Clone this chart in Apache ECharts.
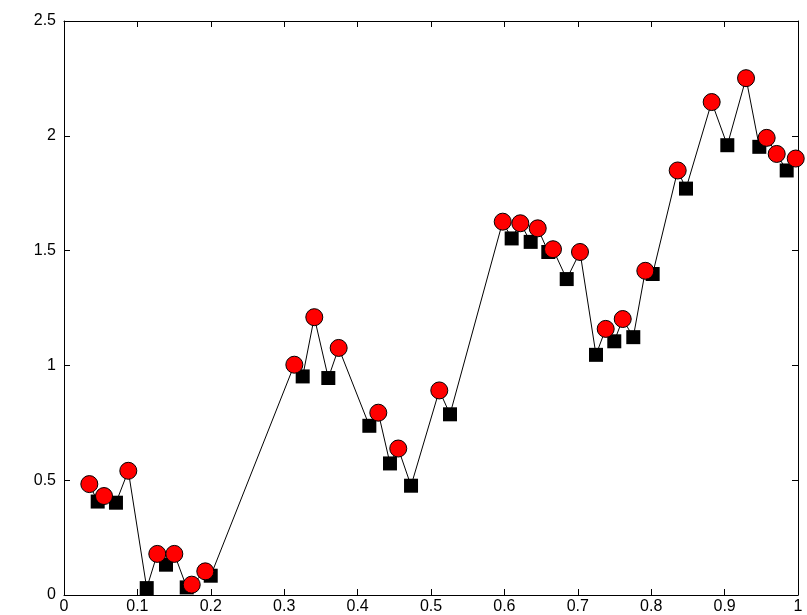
<!DOCTYPE html>
<html>
<head>
<meta charset="utf-8">
<script src="https://cdn.jsdelivr.net/npm/echarts@6/dist/echarts.min.js"></script>
<style>
  html, body { margin: 0; padding: 0; background: #fff; }
  #chart { width: 807px; height: 615px; }
</style>
</head>
<body>
<div id="chart"></div>
<script>
// Red circle samples (x, y)
const circleX = [0.0345, 0.0545, 0.0876, 0.1271, 0.1503, 0.1740, 0.1925,
                 0.3138, 0.3410, 0.3742, 0.4282, 0.4554, 0.5113,
                 0.5977, 0.6217, 0.6454, 0.6662, 0.7030, 0.7380, 0.7612, 0.7920,
                 0.8361, 0.8824, 0.9292, 0.9573, 0.9710, 0.9969];
const circleY = [0.483, 0.431, 0.541, 0.179, 0.179, 0.045, 0.103,
                 1.003, 1.210, 1.076, 0.794, 0.638, 0.891,
                 1.626, 1.619, 1.597, 1.506, 1.494, 1.159, 1.202, 1.412,
                 1.849, 2.147, 2.251, 1.991, 1.921, 1.901];

// Black square samples (x, y)
const squareX = [0.0459, 0.0708, 0.1127, 0.1390, 0.1672, 0.1999,
                 0.3252, 0.3601, 0.4160, 0.4441, 0.4728, 0.5259,
                 0.6099, 0.6358, 0.6598, 0.6849, 0.7248, 0.7497, 0.7756, 0.8020,
                 0.8474, 0.9037, 0.9473, 0.9846];
const squareY = [0.407, 0.402, 0.030, 0.132, 0.033, 0.084,
                 0.952, 0.945, 0.737, 0.573, 0.476, 0.787,
                 1.553, 1.538, 1.494, 1.376, 1.046, 1.105, 1.123, 1.398,
                 1.770, 1.959, 1.952, 1.849];

// Axis tick values
const xTicks = [0, 0.1, 0.2, 0.3, 0.4, 0.5, 0.6, 0.7, 0.8, 0.9, 1];
const yTicks = [0, 0.5, 1, 1.5, 2, 2.5];

const circles = circleX.map((x, i) => [x, circleY[i]]);
const squares = squareX.map((x, i) => [x, squareY[i]]);
// The path visits every sample in order of x
const path = circles.concat(squares).sort((a, b) => a[0] - b[0]);

const fmt = v => String(Math.round(v * 10) / 10);
const font = { color: '#000', fontFamily: 'Liberation Sans, Arial, sans-serif', fontSize: 16 };
const axisLine = { show: true, onZero: false, lineStyle: { color: '#000', width: 1 } };
const tick = { show: true, inside: true, length: 6, lineStyle: { color: '#000' } };

const chart = echarts.init(document.getElementById('chart'), null, { renderer: 'canvas' });
chart.setOption({
  animation: false,
  backgroundColor: '#fff',
  grid: { left: 64, right: 9, top: 21, bottom: 18, containLabel: false },
  xAxis: [
    { type: 'value', min: xTicks[0], max: xTicks[xTicks.length - 1], interval: 0.1,
      position: 'bottom', axisLine, axisTick: tick, splitLine: { show: false },
      axisLabel: Object.assign({ margin: 4, formatter: fmt, showMaxLabel: true }, font) },
    { type: 'value', min: xTicks[0], max: xTicks[xTicks.length - 1], interval: 0.1,
      position: 'top', axisLine, axisTick: tick, splitLine: { show: false },
      axisLabel: { show: false } }
  ],
  yAxis: [
    { type: 'value', min: yTicks[0], max: yTicks[yTicks.length - 1], interval: 0.5,
      position: 'left', axisLine, axisTick: tick, splitLine: { show: false },
      axisLabel: Object.assign({ margin: 8, formatter: fmt }, font) },
    { type: 'value', min: yTicks[0], max: yTicks[yTicks.length - 1], interval: 0.5,
      position: 'right', axisLine, axisTick: tick, splitLine: { show: false },
      axisLabel: { show: false } }
  ],
  series: [
    { type: 'line', data: path, symbol: 'none', z: 1,
      lineStyle: { color: '#000', width: 1 } },
    { type: 'scatter', data: squares, symbol: 'rect', symbolSize: 14, z: 2,
      itemStyle: { color: '#000', opacity: 1 } },
    { type: 'scatter', data: circles, symbol: 'circle', symbolSize: 17, z: 3,
      itemStyle: { color: '#ff0000', borderColor: '#000', borderWidth: 1, opacity: 1 } }
  ]
});
</script>
</body>
</html>
